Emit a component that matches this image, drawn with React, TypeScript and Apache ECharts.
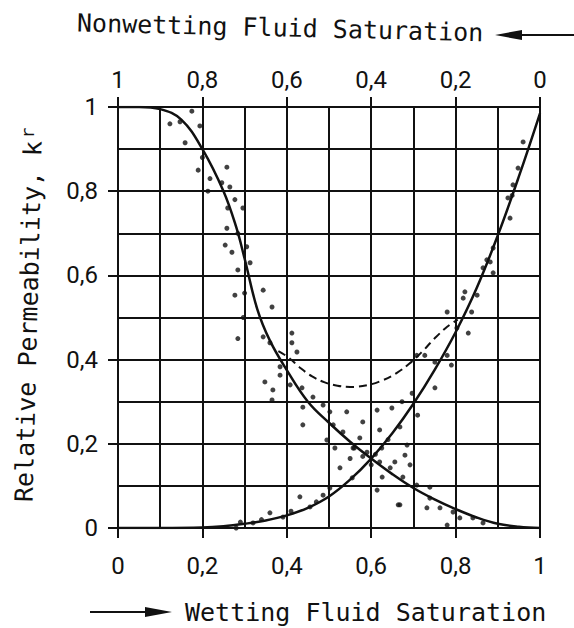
import { useEffect, useRef } from "react";
import * as echarts from "echarts";

// Axis tick values (wetting saturation, bottom; nonwetting = 1 - Sw, top)
const xTickValues = [0, 0.2, 0.4, 0.6, 0.8, 1];
const yTickValues = [0, 0.2, 0.4, 0.6, 0.8, 1];

// Solid curve: nonwetting relative permeability vs wetting saturation
const nonwetCurve: [number, number][] = [
  [0, 1], [0.05, 1], [0.1, 0.995], [0.15, 0.97], [0.2, 0.9], [0.25, 0.8],
  [0.28, 0.715], [0.3, 0.64], [0.33, 0.52], [0.36, 0.445], [0.4, 0.375],
  [0.45, 0.3], [0.5, 0.25], [0.55, 0.205], [0.6, 0.165], [0.65, 0.128],
  [0.7, 0.095], [0.75, 0.068], [0.8, 0.045], [0.85, 0.025], [0.9, 0.01],
  [0.95, 0.003], [1, 0],
];

// Solid curve: wetting relative permeability vs wetting saturation
const wetCurve: [number, number][] = [
  [0, 0], [0.1, 0], [0.2, 0.001], [0.25, 0.004], [0.3, 0.01], [0.35, 0.018],
  [0.4, 0.03], [0.45, 0.048], [0.5, 0.075], [0.55, 0.115], [0.6, 0.165],
  [0.65, 0.225], [0.7, 0.295], [0.75, 0.375], [0.8, 0.465], [0.85, 0.57],
  [0.9, 0.695], [0.95, 0.835], [1, 0.985],
];

// Dashed curve (sum of the two)
const dashedCurve: [number, number][] = [
  [0.38, 0.42], [0.404, 0.405], [0.43, 0.382], [0.46, 0.36], [0.49, 0.346],
  [0.52, 0.338], [0.55, 0.335], [0.59, 0.339], [0.63, 0.352], [0.66, 0.368],
  [0.69, 0.39], [0.72, 0.418], [0.75, 0.45], [0.78, 0.478], [0.805, 0.495],
];

// Measured points, nonwetting phase
const nonwetPoints: [number, number][] = [
  [0.123, 0.96], [0.147, 0.965], [0.159, 0.915], [0.175, 0.99], [0.194, 0.955],
  [0.2, 0.88], [0.19, 0.85], [0.218, 0.83], [0.213, 0.8], [0.258, 0.857],
  [0.246, 0.82], [0.265, 0.81], [0.277, 0.78], [0.26, 0.76], [0.296, 0.76],
  [0.258, 0.712], [0.284, 0.7], [0.254, 0.672], [0.27, 0.655], [0.284, 0.613],
  [0.305, 0.668], [0.313, 0.63], [0.277, 0.553], [0.3, 0.558], [0.344, 0.565],
  [0.365, 0.525], [0.284, 0.45], [0.297, 0.5], [0.344, 0.454], [0.36, 0.44],
  [0.412, 0.463], [0.412, 0.44], [0.424, 0.418], [0.384, 0.383], [0.384, 0.363],
  [0.348, 0.347], [0.367, 0.328], [0.365, 0.304], [0.408, 0.34], [0.436, 0.333],
  [0.462, 0.311], [0.438, 0.287], [0.438, 0.245], [0.495, 0.209], [0.486, 0.292],
  [0.502, 0.276], [0.51, 0.245], [0.514, 0.19], [0.533, 0.228], [0.573, 0.214],
  [0.59, 0.18], [0.62, 0.157], [0.645, 0.143], [0.675, 0.121], [0.708, 0.102],
  [0.739, 0.071], [0.763, 0.048], [0.794, 0.038], [0.81, 0.024], [0.841, 0.024],
  [0.865, 0.012], [0.78, 0.007], [0.732, 0.048], [0.668, 0.055], [0.739, 0.097],
  [0.692, 0.15], [0.685, 0.197], [0.58, 0.17], [0.6, 0.15], [0.61, 0.175],
  [0.56, 0.19], [0.55, 0.165], [0.625, 0.19], [0.64, 0.21],
];

// Measured points, wetting phase
const wetPoints: [number, number][] = [
  [0.28, 0.0], [0.29, 0.014], [0.32, 0.012], [0.34, 0.02], [0.36, 0.036],
  [0.391, 0.026], [0.41, 0.04], [0.431, 0.074], [0.455, 0.05], [0.47, 0.062],
  [0.486, 0.078], [0.502, 0.095], [0.526, 0.143], [0.555, 0.119], [0.557, 0.19],
  [0.542, 0.276], [0.58, 0.252], [0.614, 0.09], [0.62, 0.233], [0.614, 0.28],
  [0.626, 0.121], [0.649, 0.285], [0.656, 0.157], [0.664, 0.055], [0.668, 0.24],
  [0.673, 0.3], [0.68, 0.173], [0.697, 0.32], [0.708, 0.41], [0.71, 0.268],
  [0.727, 0.41], [0.751, 0.394], [0.751, 0.333], [0.78, 0.41], [0.79, 0.387],
  [0.78, 0.513], [0.803, 0.475], [0.818, 0.546], [0.83, 0.463], [0.838, 0.513],
  [0.822, 0.561], [0.851, 0.553], [0.865, 0.618], [0.874, 0.637], [0.882, 0.632],
  [0.889, 0.606], [0.889, 0.665], [0.929, 0.736], [0.924, 0.784], [0.934, 0.79],
  [0.936, 0.815], [0.948, 0.855], [0.96, 0.917],
];

const topTitle = "Nonwetting Fluid Saturation";
const bottomTitle = "Wetting Fluid Saturation";
const yTitle = "Relative Permeability, k";
const ySup = "r";

const fmt = (v: number) => String(Math.round(v * 10) / 10).replace(".", ",");

export default function App() {
  const ref = useRef<HTMLDivElement>(null);
  useEffect(() => {
    const chart = echarts.init(ref.current!, null, { renderer: "svg" });
    const ink = "#111";
    const labelFont = { fontFamily: "Roboto", fontSize: 24, color: ink };
    const gridLine = { show: true, lineStyle: { color: ink, width: 2 } };
    const axisLine = { show: true, onZero: false, lineStyle: { color: ink, width: 2 } };
    const axisTick = { show: true, inside: false, length: 10, lineStyle: { color: ink, width: 2 } };
    const step = xTickValues[1] - xTickValues[0];
    const titleFont = { fontFamily: "DejaVu Sans Mono", fontSize: 25 };
    chart.setOption({
      animation: false,
      backgroundColor: "#fff",
      grid: { left: 118, right: 34, top: 107, bottom: 100 },
      xAxis: [
        {
          type: "value", position: "bottom",
          min: xTickValues[0], max: xTickValues[xTickValues.length - 1], interval: step,
          axisLine, axisTick,
          axisLabel: { ...labelFont, margin: 26, formatter: fmt },
          splitLine: gridLine,
          minorTick: { show: false, splitNumber: 2 },
          minorSplitLine: gridLine,
        },
        {
          type: "value", position: "top", inverse: true,
          min: xTickValues[0], max: xTickValues[xTickValues.length - 1], interval: step,
          axisLine, axisTick,
          axisLabel: { ...labelFont, margin: 15, formatter: fmt },
          splitLine: { show: false },
        },
      ],
      yAxis: {
        type: "value", position: "left",
        min: yTickValues[0], max: yTickValues[yTickValues.length - 1], interval: yTickValues[1] - yTickValues[0],
        axisLine, axisTick,
        axisLabel: { ...labelFont, margin: 20, formatter: fmt },
        splitLine: gridLine,
        minorTick: { show: false, splitNumber: 2 },
        minorSplitLine: gridLine,
      },
      graphic: [
        {
          type: "text", x: 77, y: 23, rotation: -0.024,
          style: { text: topTitle, ...titleFont, fill: ink, align: "left", verticalAlign: "middle", textAlign: "left", textVerticalAlign: "middle" },
        },
        { type: "polygon", shape: { points: [[495, 35], [522, 30], [522, 40]] }, style: { fill: ink } },
        { type: "line", shape: { x1: 520, y1: 35, x2: 574, y2: 35 }, style: { stroke: ink, lineWidth: 2 } },
        {
          type: "text", x: 185, y: 612,
          style: { text: bottomTitle, ...titleFont, fill: ink, align: "left", verticalAlign: "middle", textAlign: "left", textVerticalAlign: "middle" },
        },
        { type: "line", shape: { x1: 90, y1: 612, x2: 150, y2: 612 }, style: { stroke: ink, lineWidth: 2 } },
        { type: "polygon", shape: { points: [[172, 612], [145, 607], [145, 617]] }, style: { fill: ink } },
        {
          type: "text", x: 24, y: 502, rotation: Math.PI / 2 - 0.025,
          style: { text: yTitle, ...titleFont, fill: ink, align: "left", verticalAlign: "middle", textAlign: "left", textVerticalAlign: "middle" },
        },
        {
          type: "text", x: 27, y: 133, rotation: Math.PI / 2,
          style: { text: ySup, fontFamily: "DejaVu Sans Mono", fontSize: 18, fill: ink, align: "center", verticalAlign: "middle", textAlign: "center", textVerticalAlign: "middle" },
        },
      ],
      series: [
        {
          type: "line", data: nonwetCurve, smooth: 0.4,
          symbol: "none", lineStyle: { color: ink, width: 2.5 },
        },
        {
          type: "line", data: wetCurve, smooth: 0.4,
          symbol: "none", lineStyle: { color: ink, width: 2.5 },
        },
        {
          type: "line", data: dashedCurve, smooth: 0.4,
          symbol: "none", lineStyle: { color: ink, width: 2, type: [8, 5] },
        },
        {
          type: "scatter", data: nonwetPoints, symbol: "circle", symbolSize: 5,
          itemStyle: { color: ink },
        },
        {
          type: "scatter", data: wetPoints, symbol: "circle", symbolSize: 5,
          itemStyle: { color: ink },
        },
      ],
    });
    return () => chart.dispose();
  }, []);
  return (
    <div
      ref={ref}
      style={{ position: "absolute", left: 0, top: 0, width: 574, height: 628 }}
    />
  );
}
